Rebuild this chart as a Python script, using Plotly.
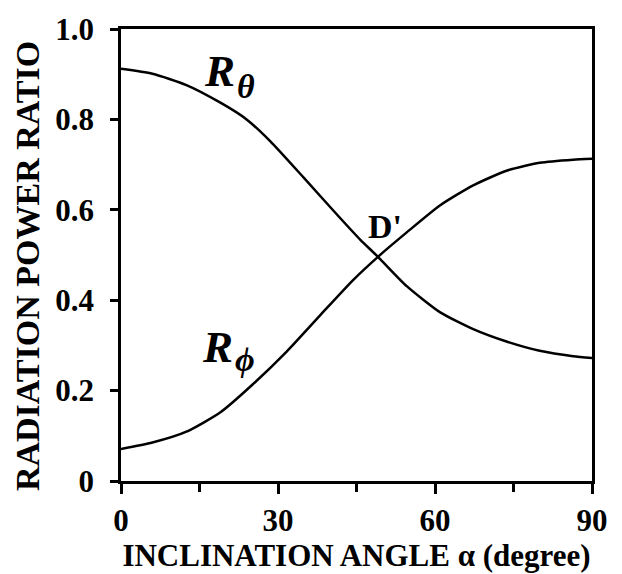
import plotly.graph_objects as go

# Radiation power ratios versus inclination angle (degrees)
alpha_theta = [0, 6, 12.5, 19, 24, 28.5, 35, 41.3, 45.7, 49.1, 54.6, 61, 67.3, 73.8, 80, 86.4, 90]
r_theta = [0.912, 0.901, 0.876, 0.837, 0.800, 0.752, 0.670, 0.589, 0.534, 0.496,
           0.431, 0.373, 0.336, 0.308, 0.288, 0.276, 0.272]

alpha_phi = [0, 6, 12.5, 19, 25.2, 31.7, 38, 44.3, 49.1, 54.6, 61, 67.3, 73.8, 80, 86.4, 90]
r_phi = [0.071, 0.085, 0.109, 0.152, 0.214, 0.287, 0.366, 0.444, 0.496,
         0.550, 0.610, 0.654, 0.687, 0.704, 0.711, 0.713]

x_ticks = [0, 30, 60, 90]
x_minor = [15, 45, 75]
y_ticks = [0, 0.2, 0.4, 0.6, 0.8, 1.0]
y_labels = ["0", "0.2", "0.4", "0.6", "0.8", "1.0"]

FONT = "Liberation Serif"
BLACK = "black"

fig = go.Figure()
line = dict(color=BLACK, width=2.5, shape="spline", smoothing=0.6)
fig.add_trace(go.Scatter(x=alpha_theta, y=r_theta, mode="lines", line=line, name="R_theta"))
fig.add_trace(go.Scatter(x=alpha_phi, y=r_phi, mode="lines", line=line, name="R_phi"))


def label(x, y, text, size, italic=True):
    body = f"<b><i>{text}</i></b>" if italic else f"<b>{text}</b>"
    fig.add_annotation(x=x, y=y, xref="x", yref="y", xanchor="left", yanchor="middle",
                       text=body, showarrow=False, borderpad=0,
                       font=dict(family=FONT, size=size, color=BLACK))


# curve labels: main letter plus a lowered subscript
label(15.6, 0.908, "R", 45)
label(22.0, 0.872, "θ", 34)
label(15.3, 0.297, "R", 45)
label(21.6, 0.268, "ϕ", 34)
# crossing point
label(47.1, 0.562, "D'", 34, italic=False)

# vertical axis title
fig.add_annotation(x=-0.197, y=0.476, xref="paper", yref="paper",
                   xanchor="center", yanchor="middle", textangle=-90,
                   text="<b>RADIATION POWER RATIO</b>", showarrow=False,
                   font=dict(family=FONT, size=34, color=BLACK))

fig.update_layout(
    width=622, height=574,
    margin=dict(l=121, r=30, t=26, b=81),
    paper_bgcolor="white", plot_bgcolor="white",
    showlegend=False,
    font=dict(family=FONT, color=BLACK),
)
fig.update_xaxes(
    range=[0, 90], tickvals=x_ticks, ticktext=[f"<b>{v}</b>" for v in x_ticks],
    ticks="outside", ticklen=10, tickwidth=2.5, tickcolor=BLACK,
    minor=dict(tickvals=x_minor, ticks="outside", ticklen=8, tickwidth=2.5, tickcolor=BLACK),
    showline=True, linewidth=2.5, linecolor=BLACK, mirror=True,
    showgrid=False, zeroline=False,
    tickfont=dict(family=FONT, size=31, color=BLACK),
    title=dict(text="<b>INCLINATION ANGLE α (degree)</b>",
               font=dict(family=FONT, size=31, color=BLACK), standoff=2),
)
fig.update_yaxes(
    range=[0, 1.0], tickvals=y_ticks, ticktext=[f"<b>{t}</b>" for t in y_labels],
    ticks="outside", ticklen=8, tickwidth=2.5, tickcolor=BLACK,
    ticklabelstandoff=10,
    showline=True, linewidth=2.5, linecolor=BLACK, mirror=True,
    showgrid=False, zeroline=False,
    tickfont=dict(family=FONT, size=31, color=BLACK),
)

fig.write_html("out.html")
